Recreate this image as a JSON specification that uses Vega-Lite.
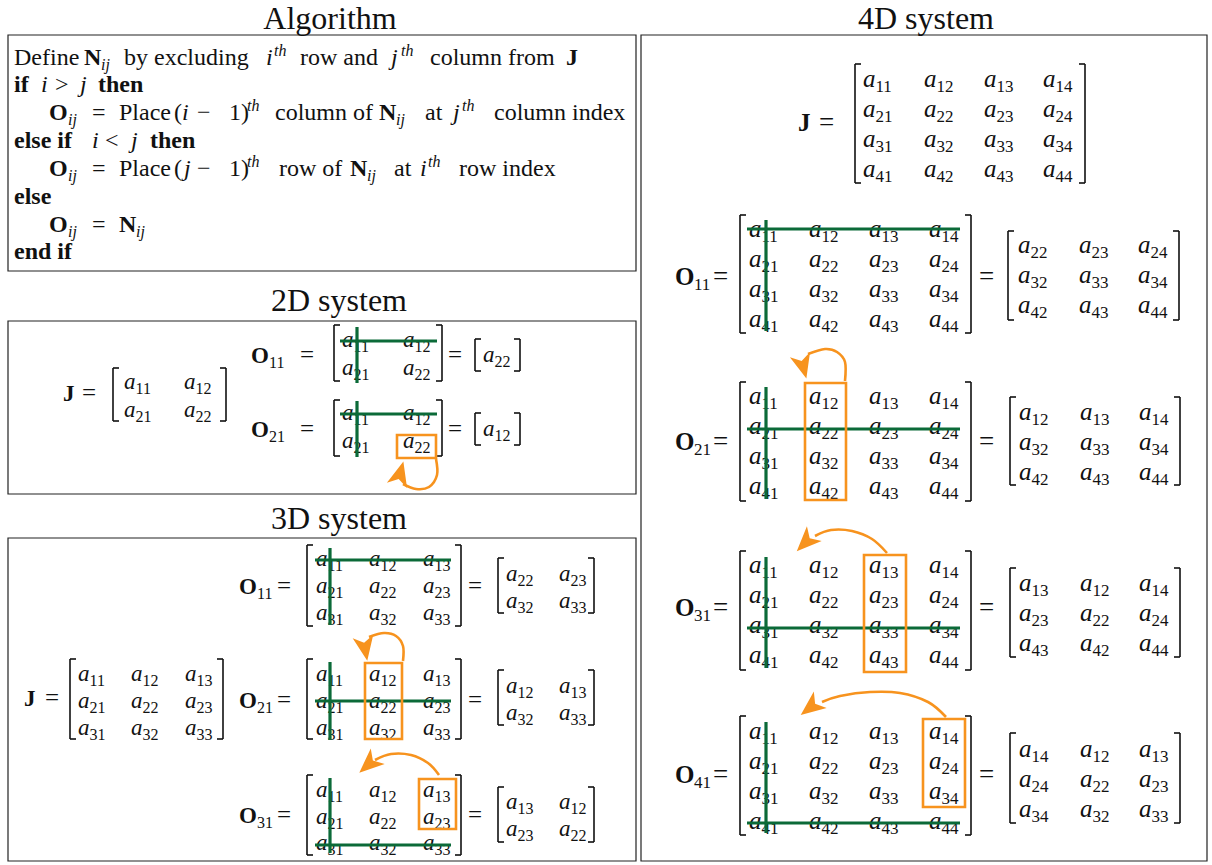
{
  "$schema": "https://vega.github.io/schema/vega-lite/v6.json",
  "width": 1212,
  "height": 865,
  "autosize": {"type": "fit", "contains": "padding"},
  "padding": 0,
  "background": "white",
  "config": {"view": {"stroke": null}, "axis": {"disable": true}, "legend": {"disable": true}},
  "datasets": {
    "boxes": [
      {"x": 8, "x2": 636, "y": 35, "y2": 271},
      {"x": 8, "x2": 636, "y": 321, "y2": 494},
      {"x": 8, "x2": 636, "y": 538, "y2": 861},
      {"x": 641, "x2": 1207, "y": 35, "y2": 861}
    ],
    "titles": [
      {"x": 330, "y": 29, "t": "Algorithm"},
      {"x": 339, "y": 311, "t": "2D system"},
      {"x": 339, "y": 529, "t": "3D system"},
      {"x": 926, "y": 29, "t": "4D system"}
    ],
    "rom": [
      {"x": 14, "y": 65, "t": "Define"},
      {"x": 124, "y": 65, "t": "by excluding"},
      {"x": 300, "y": 65, "t": "row and"},
      {"x": 430, "y": 65, "t": "column from"},
      {"x": 55, "y": 92, "t": ">"},
      {"x": 92, "y": 120, "t": "="},
      {"x": 119, "y": 120, "t": "Place"},
      {"x": 174, "y": 120, "t": "("},
      {"x": 197, "y": 120, "t": "−"},
      {"x": 229, "y": 120, "t": "1)"},
      {"x": 275, "y": 120, "t": "column of"},
      {"x": 425, "y": 120, "t": "at"},
      {"x": 494, "y": 120, "t": "column index"},
      {"x": 105, "y": 148, "t": "<"},
      {"x": 92, "y": 176, "t": "="},
      {"x": 119, "y": 176, "t": "Place"},
      {"x": 174, "y": 176, "t": "("},
      {"x": 197, "y": 176, "t": "−"},
      {"x": 229, "y": 176, "t": "1)"},
      {"x": 279, "y": 176, "t": "row of"},
      {"x": 394, "y": 176, "t": "at"},
      {"x": 459, "y": 176, "t": "row index"},
      {"x": 92, "y": 232, "t": "="}
    ],
    "bold": [
      {"x": 84, "y": 65, "t": "N"},
      {"x": 566, "y": 65, "t": "J"},
      {"x": 14, "y": 92, "t": "if"},
      {"x": 98, "y": 92, "t": "then"},
      {"x": 49, "y": 120, "t": "O"},
      {"x": 379, "y": 120, "t": "N"},
      {"x": 14, "y": 148, "t": "else if"},
      {"x": 150, "y": 148, "t": "then"},
      {"x": 49, "y": 176, "t": "O"},
      {"x": 350, "y": 176, "t": "N"},
      {"x": 14, "y": 204, "t": "else"},
      {"x": 49, "y": 232, "t": "O"},
      {"x": 119, "y": 232, "t": "N"},
      {"x": 14, "y": 259, "t": "end if"}
    ],
    "ital": [
      {"x": 266, "y": 65, "t": "i"},
      {"x": 391, "y": 65, "t": "j"},
      {"x": 41, "y": 92, "t": "i"},
      {"x": 80, "y": 92, "t": "j"},
      {"x": 182, "y": 120, "t": "i"},
      {"x": 453, "y": 120, "t": "j"},
      {"x": 92, "y": 148, "t": "i"},
      {"x": 131, "y": 148, "t": "j"},
      {"x": 184, "y": 176, "t": "j"},
      {"x": 420, "y": 176, "t": "i"}
    ],
    "isub": [
      {"x": 101, "y": 70, "t": "ij"},
      {"x": 68, "y": 125, "t": "ij"},
      {"x": 396, "y": 125, "t": "ij"},
      {"x": 68, "y": 181, "t": "ij"},
      {"x": 367, "y": 181, "t": "ij"},
      {"x": 68, "y": 237, "t": "ij"},
      {"x": 136, "y": 237, "t": "ij"}
    ],
    "isup": [
      {"x": 274, "y": 56, "t": "th"},
      {"x": 401, "y": 56, "t": "th"},
      {"x": 247, "y": 111, "t": "th"},
      {"x": 462, "y": 111, "t": "th"},
      {"x": 247, "y": 167, "t": "th"},
      {"x": 428, "y": 167, "t": "th"}
    ],
    "ent4": [
      {"x": 863, "y": 87, "s": "11"}, {"x": 924, "y": 87, "s": "12"}, {"x": 984, "y": 87, "s": "13"}, {"x": 1043, "y": 87, "s": "14"},
      {"x": 863, "y": 117, "s": "21"}, {"x": 924, "y": 117, "s": "22"}, {"x": 984, "y": 117, "s": "23"}, {"x": 1043, "y": 117, "s": "24"},
      {"x": 863, "y": 147, "s": "31"}, {"x": 924, "y": 147, "s": "32"}, {"x": 984, "y": 147, "s": "33"}, {"x": 1043, "y": 147, "s": "34"},
      {"x": 863, "y": 177, "s": "41"}, {"x": 924, "y": 177, "s": "42"}, {"x": 984, "y": 177, "s": "43"}, {"x": 1043, "y": 177, "s": "44"},

      {"x": 749, "y": 237, "s": "11"}, {"x": 809, "y": 237, "s": "12"}, {"x": 869, "y": 237, "s": "13"}, {"x": 929, "y": 237, "s": "14"},
      {"x": 749, "y": 267, "s": "21"}, {"x": 809, "y": 267, "s": "22"}, {"x": 869, "y": 267, "s": "23"}, {"x": 929, "y": 267, "s": "24"},
      {"x": 749, "y": 297, "s": "31"}, {"x": 809, "y": 297, "s": "32"}, {"x": 869, "y": 297, "s": "33"}, {"x": 929, "y": 297, "s": "34"},
      {"x": 749, "y": 327, "s": "41"}, {"x": 809, "y": 327, "s": "42"}, {"x": 869, "y": 327, "s": "43"}, {"x": 929, "y": 327, "s": "44"},

      {"x": 749, "y": 404, "s": "11"}, {"x": 809, "y": 404, "s": "12"}, {"x": 869, "y": 404, "s": "13"}, {"x": 929, "y": 404, "s": "14"},
      {"x": 749, "y": 434, "s": "21"}, {"x": 809, "y": 434, "s": "22"}, {"x": 869, "y": 434, "s": "23"}, {"x": 929, "y": 434, "s": "24"},
      {"x": 749, "y": 464, "s": "31"}, {"x": 809, "y": 464, "s": "32"}, {"x": 869, "y": 464, "s": "33"}, {"x": 929, "y": 464, "s": "34"},
      {"x": 749, "y": 494, "s": "41"}, {"x": 809, "y": 494, "s": "42"}, {"x": 869, "y": 494, "s": "43"}, {"x": 929, "y": 494, "s": "44"},

      {"x": 749, "y": 573, "s": "11"}, {"x": 809, "y": 573, "s": "12"}, {"x": 869, "y": 573, "s": "13"}, {"x": 929, "y": 573, "s": "14"},
      {"x": 749, "y": 603, "s": "21"}, {"x": 809, "y": 603, "s": "22"}, {"x": 869, "y": 603, "s": "23"}, {"x": 929, "y": 603, "s": "24"},
      {"x": 749, "y": 633, "s": "31"}, {"x": 809, "y": 633, "s": "32"}, {"x": 869, "y": 633, "s": "33"}, {"x": 929, "y": 633, "s": "34"},
      {"x": 749, "y": 663, "s": "41"}, {"x": 809, "y": 663, "s": "42"}, {"x": 869, "y": 663, "s": "43"}, {"x": 929, "y": 663, "s": "44"},

      {"x": 749, "y": 739, "s": "11"}, {"x": 809, "y": 739, "s": "12"}, {"x": 869, "y": 739, "s": "13"}, {"x": 929, "y": 739, "s": "14"},
      {"x": 749, "y": 769, "s": "21"}, {"x": 809, "y": 769, "s": "22"}, {"x": 869, "y": 769, "s": "23"}, {"x": 929, "y": 769, "s": "24"},
      {"x": 749, "y": 799, "s": "31"}, {"x": 809, "y": 799, "s": "32"}, {"x": 869, "y": 799, "s": "33"}, {"x": 929, "y": 799, "s": "34"},
      {"x": 749, "y": 829, "s": "41"}, {"x": 809, "y": 829, "s": "42"}, {"x": 869, "y": 829, "s": "43"}, {"x": 929, "y": 829, "s": "44"},

      {"x": 1018, "y": 253, "s": "22"}, {"x": 1079, "y": 253, "s": "23"}, {"x": 1138, "y": 253, "s": "24"},
      {"x": 1018, "y": 283, "s": "32"}, {"x": 1079, "y": 283, "s": "33"}, {"x": 1138, "y": 283, "s": "34"},
      {"x": 1018, "y": 313, "s": "42"}, {"x": 1079, "y": 313, "s": "43"}, {"x": 1138, "y": 313, "s": "44"},

      {"x": 1019, "y": 420, "s": "12"}, {"x": 1080, "y": 420, "s": "13"}, {"x": 1139, "y": 420, "s": "14"},
      {"x": 1019, "y": 450, "s": "32"}, {"x": 1080, "y": 450, "s": "33"}, {"x": 1139, "y": 450, "s": "34"},
      {"x": 1019, "y": 480, "s": "42"}, {"x": 1080, "y": 480, "s": "43"}, {"x": 1139, "y": 480, "s": "44"},

      {"x": 1019, "y": 591, "s": "13"}, {"x": 1080, "y": 591, "s": "12"}, {"x": 1139, "y": 591, "s": "14"},
      {"x": 1019, "y": 621, "s": "23"}, {"x": 1080, "y": 621, "s": "22"}, {"x": 1139, "y": 621, "s": "24"},
      {"x": 1019, "y": 651, "s": "43"}, {"x": 1080, "y": 651, "s": "42"}, {"x": 1139, "y": 651, "s": "44"},

      {"x": 1019, "y": 757, "s": "14"}, {"x": 1080, "y": 757, "s": "12"}, {"x": 1139, "y": 757, "s": "13"},
      {"x": 1019, "y": 787, "s": "24"}, {"x": 1080, "y": 787, "s": "22"}, {"x": 1139, "y": 787, "s": "23"},
      {"x": 1019, "y": 817, "s": "34"}, {"x": 1080, "y": 817, "s": "32"}, {"x": 1139, "y": 817, "s": "33"}
    ],
    "ent23": [
      {"x": 124, "y": 389, "s": "11"}, {"x": 184, "y": 389, "s": "12"},
      {"x": 124, "y": 417, "s": "21"}, {"x": 184, "y": 417, "s": "22"},
      {"x": 342, "y": 347, "s": "11"}, {"x": 403, "y": 347, "s": "12"},
      {"x": 342, "y": 375, "s": "21"}, {"x": 403, "y": 375, "s": "22"},
      {"x": 342, "y": 420, "s": "11"}, {"x": 403, "y": 420, "s": "12"},
      {"x": 342, "y": 448, "s": "21"}, {"x": 403, "y": 448, "s": "22"},
      {"x": 483, "y": 362, "s": "22"},
      {"x": 483, "y": 436, "s": "12"},

      {"x": 78, "y": 681, "s": "11"}, {"x": 131, "y": 681, "s": "12"}, {"x": 185, "y": 681, "s": "13"},
      {"x": 78, "y": 708, "s": "21"}, {"x": 131, "y": 708, "s": "22"}, {"x": 185, "y": 708, "s": "23"},
      {"x": 78, "y": 735, "s": "31"}, {"x": 131, "y": 735, "s": "32"}, {"x": 185, "y": 735, "s": "33"},

      {"x": 316, "y": 566, "s": "11"}, {"x": 369, "y": 566, "s": "12"}, {"x": 423, "y": 566, "s": "13"},
      {"x": 316, "y": 593, "s": "21"}, {"x": 369, "y": 593, "s": "22"}, {"x": 423, "y": 593, "s": "23"},
      {"x": 316, "y": 620, "s": "31"}, {"x": 369, "y": 620, "s": "32"}, {"x": 423, "y": 620, "s": "33"},

      {"x": 316, "y": 681, "s": "11"}, {"x": 369, "y": 681, "s": "12"}, {"x": 423, "y": 681, "s": "13"},
      {"x": 316, "y": 708, "s": "21"}, {"x": 369, "y": 708, "s": "22"}, {"x": 423, "y": 708, "s": "23"},
      {"x": 316, "y": 735, "s": "31"}, {"x": 369, "y": 735, "s": "32"}, {"x": 423, "y": 735, "s": "33"},

      {"x": 316, "y": 797, "s": "11"}, {"x": 369, "y": 797, "s": "12"}, {"x": 423, "y": 797, "s": "13"},
      {"x": 316, "y": 824, "s": "21"}, {"x": 369, "y": 824, "s": "22"}, {"x": 423, "y": 824, "s": "23"},
      {"x": 316, "y": 850, "s": "31"}, {"x": 369, "y": 850, "s": "32"}, {"x": 423, "y": 850, "s": "33"},

      {"x": 506, "y": 581, "s": "22"}, {"x": 559, "y": 581, "s": "23"},
      {"x": 506, "y": 608, "s": "32"}, {"x": 559, "y": 608, "s": "33"},
      {"x": 506, "y": 693, "s": "12"}, {"x": 559, "y": 693, "s": "13"},
      {"x": 506, "y": 720, "s": "32"}, {"x": 559, "y": 720, "s": "33"},
      {"x": 506, "y": 809, "s": "13"}, {"x": 559, "y": 809, "s": "12"},
      {"x": 506, "y": 836, "s": "23"}, {"x": 559, "y": 836, "s": "22"}
    ],
    "lab4": [
      {"x": 798, "y": 131, "t": "J", "s": ""},
      {"x": 675, "y": 285, "t": "O", "s": "11"},
      {"x": 675, "y": 450, "t": "O", "s": "21"},
      {"x": 675, "y": 616, "t": "O", "s": "31"},
      {"x": 675, "y": 783, "t": "O", "s": "41"}
    ],
    "lab23": [
      {"x": 63, "y": 401, "t": "J", "s": ""},
      {"x": 251, "y": 363, "t": "O", "s": "11"},
      {"x": 251, "y": 437, "t": "O", "s": "21"},
      {"x": 24, "y": 706, "t": "J", "s": ""},
      {"x": 239, "y": 594, "t": "O", "s": "11"},
      {"x": 239, "y": 708, "t": "O", "s": "21"},
      {"x": 239, "y": 823, "t": "O", "s": "31"}
    ],
    "eq4": [
      {"x": 819, "y": 131}, {"x": 713, "y": 285}, {"x": 979, "y": 285},
      {"x": 713, "y": 450}, {"x": 979, "y": 450}, {"x": 713, "y": 616},
      {"x": 979, "y": 616}, {"x": 713, "y": 783}, {"x": 979, "y": 783}
    ],
    "eq23": [
      {"x": 82, "y": 401}, {"x": 300, "y": 363}, {"x": 448, "y": 363},
      {"x": 300, "y": 437}, {"x": 448, "y": 437},
      {"x": 45, "y": 706}, {"x": 277, "y": 594}, {"x": 468, "y": 594},
      {"x": 277, "y": 708}, {"x": 468, "y": 708}, {"x": 277, "y": 823}, {"x": 468, "y": 823}
    ],
    "brk": [
      {"x": 113, "t": 368, "b": 421, "s": "L"}, {"x": 226, "t": 368, "b": 421, "s": "R"},
      {"x": 334, "t": 325, "b": 381, "s": "L"}, {"x": 442, "t": 325, "b": 381, "s": "R"},
      {"x": 475, "t": 339, "b": 371, "s": "L"}, {"x": 520, "t": 339, "b": 371, "s": "R"},
      {"x": 334, "t": 400, "b": 456, "s": "L"}, {"x": 442, "t": 400, "b": 456, "s": "R"},
      {"x": 475, "t": 413, "b": 445, "s": "L"}, {"x": 520, "t": 413, "b": 445, "s": "R"},
      {"x": 70, "t": 659, "b": 739, "s": "L"}, {"x": 223, "t": 659, "b": 739, "s": "R"},
      {"x": 307, "t": 545, "b": 626, "s": "L"}, {"x": 461, "t": 545, "b": 626, "s": "R"},
      {"x": 498, "t": 558, "b": 613, "s": "L"}, {"x": 594, "t": 558, "b": 613, "s": "R"},
      {"x": 307, "t": 659, "b": 739, "s": "L"}, {"x": 461, "t": 659, "b": 739, "s": "R"},
      {"x": 498, "t": 670, "b": 725, "s": "L"}, {"x": 594, "t": 670, "b": 725, "s": "R"},
      {"x": 307, "t": 775, "b": 855, "s": "L"}, {"x": 461, "t": 775, "b": 855, "s": "R"},
      {"x": 498, "t": 787, "b": 842, "s": "L"}, {"x": 594, "t": 787, "b": 842, "s": "R"},
      {"x": 855, "t": 64, "b": 183, "s": "L"}, {"x": 1085, "t": 64, "b": 183, "s": "R"},
      {"x": 740, "t": 215, "b": 333, "s": "L"}, {"x": 971, "t": 215, "b": 333, "s": "R"},
      {"x": 1008, "t": 231, "b": 320, "s": "L"}, {"x": 1179, "t": 231, "b": 320, "s": "R"},
      {"x": 740, "t": 382, "b": 501, "s": "L"}, {"x": 971, "t": 382, "b": 501, "s": "R"},
      {"x": 1010, "t": 397, "b": 485, "s": "L"}, {"x": 1180, "t": 397, "b": 485, "s": "R"},
      {"x": 740, "t": 551, "b": 670, "s": "L"}, {"x": 971, "t": 551, "b": 670, "s": "R"},
      {"x": 1010, "t": 568, "b": 657, "s": "L"}, {"x": 1180, "t": 568, "b": 657, "s": "R"},
      {"x": 740, "t": 716, "b": 835, "s": "L"}, {"x": 971, "t": 716, "b": 835, "s": "R"},
      {"x": 1010, "t": 733, "b": 823, "s": "L"}, {"x": 1180, "t": 733, "b": 823, "s": "R"}
    ],
    "grn": [
      {"x": 340, "x2": 437, "y": 341, "y2": 341}, {"x": 357, "x2": 357, "y": 327, "y2": 383},
      {"x": 340, "x2": 437, "y": 414, "y2": 414}, {"x": 357, "x2": 357, "y": 401, "y2": 457},
      {"x": 315, "x2": 451, "y": 560, "y2": 560}, {"x": 330, "x2": 330, "y": 548, "y2": 625},
      {"x": 315, "x2": 451, "y": 701, "y2": 701}, {"x": 330, "x2": 330, "y": 662, "y2": 740},
      {"x": 315, "x2": 451, "y": 845, "y2": 845}, {"x": 330, "x2": 330, "y": 778, "y2": 853},
      {"x": 747, "x2": 960, "y": 229, "y2": 229}, {"x": 766, "x2": 766, "y": 220, "y2": 331},
      {"x": 747, "x2": 960, "y": 429, "y2": 429}, {"x": 766, "x2": 766, "y": 387, "y2": 499},
      {"x": 747, "x2": 960, "y": 628, "y2": 628}, {"x": 766, "x2": 766, "y": 557, "y2": 668},
      {"x": 747, "x2": 960, "y": 823, "y2": 823}, {"x": 766, "x2": 766, "y": 722, "y2": 833}
    ],
    "org": [
      {"x": 397, "x2": 436, "y": 435, "y2": 458},
      {"x": 365, "x2": 402, "y": 663, "y2": 739},
      {"x": 419, "x2": 456, "y": 779, "y2": 829},
      {"x": 805, "x2": 846, "y": 383, "y2": 500},
      {"x": 864, "x2": 906, "y": 555, "y2": 672},
      {"x": 923, "x2": 965, "y": 719, "y2": 807}
    ],
    "arc": [
      {"id": "a2", "o": 1, "x": 436, "y": 459}, {"id": "a2", "o": 2, "x": 437, "y": 475}, {"id": "a2", "o": 3, "x": 429, "y": 487}, {"id": "a2", "o": 4, "x": 416, "y": 489}, {"id": "a2", "o": 5, "x": 403, "y": 484},
      {"id": "b1", "o": 1, "x": 403, "y": 661}, {"id": "b1", "o": 2, "x": 403, "y": 646}, {"id": "b1", "o": 3, "x": 396, "y": 636}, {"id": "b1", "o": 4, "x": 384, "y": 633}, {"id": "b1", "o": 5, "x": 369, "y": 637},
      {"id": "b2", "o": 1, "x": 439, "y": 775}, {"id": "b2", "o": 2, "x": 428, "y": 763}, {"id": "b2", "o": 3, "x": 411, "y": 755}, {"id": "b2", "o": 4, "x": 391, "y": 754}, {"id": "b2", "o": 5, "x": 375, "y": 760},
      {"id": "c1", "o": 1, "x": 845, "y": 381}, {"id": "c1", "o": 2, "x": 845, "y": 362}, {"id": "c1", "o": 3, "x": 837, "y": 352}, {"id": "c1", "o": 4, "x": 825, "y": 349}, {"id": "c1", "o": 5, "x": 808, "y": 354},
      {"id": "c2", "o": 1, "x": 887, "y": 553}, {"id": "c2", "o": 2, "x": 872, "y": 539}, {"id": "c2", "o": 3, "x": 852, "y": 531}, {"id": "c2", "o": 4, "x": 831, "y": 530}, {"id": "c2", "o": 5, "x": 815, "y": 536},
      {"id": "c3", "o": 1, "x": 946, "y": 717}, {"id": "c3", "o": 2, "x": 928, "y": 702}, {"id": "c3", "o": 3, "x": 900, "y": 693}, {"id": "c3", "o": 4, "x": 870, "y": 692}, {"id": "c3", "o": 5, "x": 840, "y": 696}, {"id": "c3", "o": 6, "x": 822, "y": 702}
    ],
    "head": [
      {"x": 400, "y": 474, "ang": 15},
      {"x": 365, "y": 648, "ang": 170},
      {"x": 369, "y": 764, "ang": 228},
      {"x": 803, "y": 366, "ang": 165},
      {"x": 806, "y": 542, "ang": 225},
      {"x": 811, "y": 707, "ang": 232}
    ]
  },
  "layer": [
    {
      "data": {"name": "boxes"},
      "mark": {"type": "rect", "fillOpacity": 0, "stroke": "#222222", "strokeWidth": 1.2},
      "encoding": {
        "x": {"field": "x", "type": "quantitative", "scale": {"domain": [0, 1212], "nice": false, "zero": false}, "axis": null},
        "x2": {"field": "x2"},
        "y": {"field": "y", "type": "quantitative", "scale": {"domain": [0, 865], "reverse": true, "nice": false, "zero": false}, "axis": null},
        "y2": {"field": "y2"}
      }
    },
    {
      "data": {"name": "brk"},
      "mark": {"type": "rule", "color": "#111111", "strokeWidth": 1.6},
      "encoding": {
        "x": {"field": "x", "type": "quantitative"},
        "y": {"field": "t", "type": "quantitative"},
        "y2": {"field": "b"}
      }
    },
    {
      "data": {"name": "brk"},
      "transform": [{"filter": "datum.s === 'L'"}],
      "mark": {"type": "rule", "color": "#111111", "strokeWidth": 1.6, "x2Offset": 6},
      "encoding": {"x": {"field": "x", "type": "quantitative"}, "x2": {"field": "x"}, "y": {"field": "t", "type": "quantitative"}}
    },
    {
      "data": {"name": "brk"},
      "transform": [{"filter": "datum.s === 'L'"}],
      "mark": {"type": "rule", "color": "#111111", "strokeWidth": 1.6, "x2Offset": 6},
      "encoding": {"x": {"field": "x", "type": "quantitative"}, "x2": {"field": "x"}, "y": {"field": "b", "type": "quantitative"}}
    },
    {
      "data": {"name": "brk"},
      "transform": [{"filter": "datum.s === 'R'"}],
      "mark": {"type": "rule", "color": "#111111", "strokeWidth": 1.6, "x2Offset": -6},
      "encoding": {"x": {"field": "x", "type": "quantitative"}, "x2": {"field": "x"}, "y": {"field": "t", "type": "quantitative"}}
    },
    {
      "data": {"name": "brk"},
      "transform": [{"filter": "datum.s === 'R'"}],
      "mark": {"type": "rule", "color": "#111111", "strokeWidth": 1.6, "x2Offset": -6},
      "encoding": {"x": {"field": "x", "type": "quantitative"}, "x2": {"field": "x"}, "y": {"field": "b", "type": "quantitative"}}
    },
    {
      "data": {"name": "titles"},
      "mark": {"type": "text", "font": "Liberation Serif", "fontSize": 32, "align": "center", "baseline": "alphabetic", "color": "#111111"},
      "encoding": {"x": {"field": "x", "type": "quantitative"}, "y": {"field": "y", "type": "quantitative"}, "text": {"field": "t"}}
    },
    {
      "data": {"name": "rom"},
      "mark": {"type": "text", "font": "Liberation Serif", "fontSize": 24, "align": "left", "baseline": "alphabetic", "color": "#111111"},
      "encoding": {"x": {"field": "x", "type": "quantitative"}, "y": {"field": "y", "type": "quantitative"}, "text": {"field": "t"}}
    },
    {
      "data": {"name": "bold"},
      "mark": {"type": "text", "font": "Liberation Serif", "fontSize": 24, "fontWeight": "bold", "align": "left", "baseline": "alphabetic", "color": "#111111"},
      "encoding": {"x": {"field": "x", "type": "quantitative"}, "y": {"field": "y", "type": "quantitative"}, "text": {"field": "t"}}
    },
    {
      "data": {"name": "ital"},
      "mark": {"type": "text", "font": "Liberation Serif", "fontSize": 24, "fontStyle": "italic", "align": "left", "baseline": "alphabetic", "color": "#111111"},
      "encoding": {"x": {"field": "x", "type": "quantitative"}, "y": {"field": "y", "type": "quantitative"}, "text": {"field": "t"}}
    },
    {
      "data": {"name": "isub"},
      "mark": {"type": "text", "font": "Liberation Serif", "fontSize": 16, "fontStyle": "italic", "align": "left", "baseline": "alphabetic", "color": "#111111"},
      "encoding": {"x": {"field": "x", "type": "quantitative"}, "y": {"field": "y", "type": "quantitative"}, "text": {"field": "t"}}
    },
    {
      "data": {"name": "isup"},
      "mark": {"type": "text", "font": "Liberation Serif", "fontSize": 16, "fontStyle": "italic", "align": "left", "baseline": "alphabetic", "color": "#111111"},
      "encoding": {"x": {"field": "x", "type": "quantitative"}, "y": {"field": "y", "type": "quantitative"}, "text": {"field": "t"}}
    },
    {
      "data": {"name": "ent4"},
      "mark": {"type": "text", "font": "Liberation Serif", "fontSize": 25, "fontStyle": "italic", "align": "left", "baseline": "alphabetic", "color": "#111111"},
      "encoding": {"x": {"field": "x", "type": "quantitative"}, "y": {"field": "y", "type": "quantitative"}, "text": {"value": "a"}}
    },
    {
      "data": {"name": "ent4"},
      "mark": {"type": "text", "font": "Liberation Serif", "fontSize": 17, "align": "left", "baseline": "alphabetic", "dx": 12.5, "dy": 5, "color": "#111111"},
      "encoding": {"x": {"field": "x", "type": "quantitative"}, "y": {"field": "y", "type": "quantitative"}, "text": {"field": "s"}}
    },
    {
      "data": {"name": "ent23"},
      "mark": {"type": "text", "font": "Liberation Serif", "fontSize": 23, "fontStyle": "italic", "align": "left", "baseline": "alphabetic", "color": "#111111"},
      "encoding": {"x": {"field": "x", "type": "quantitative"}, "y": {"field": "y", "type": "quantitative"}, "text": {"value": "a"}}
    },
    {
      "data": {"name": "ent23"},
      "mark": {"type": "text", "font": "Liberation Serif", "fontSize": 16, "align": "left", "baseline": "alphabetic", "dx": 11.5, "dy": 5, "color": "#111111"},
      "encoding": {"x": {"field": "x", "type": "quantitative"}, "y": {"field": "y", "type": "quantitative"}, "text": {"field": "s"}}
    },
    {
      "data": {"name": "lab4"},
      "mark": {"type": "text", "font": "Liberation Serif", "fontSize": 25, "fontWeight": "bold", "align": "left", "baseline": "alphabetic", "color": "#111111"},
      "encoding": {"x": {"field": "x", "type": "quantitative"}, "y": {"field": "y", "type": "quantitative"}, "text": {"field": "t"}}
    },
    {
      "data": {"name": "lab4"},
      "mark": {"type": "text", "font": "Liberation Serif", "fontSize": 17, "align": "left", "baseline": "alphabetic", "dx": 19, "dy": 5, "color": "#111111"},
      "encoding": {"x": {"field": "x", "type": "quantitative"}, "y": {"field": "y", "type": "quantitative"}, "text": {"field": "s"}}
    },
    {
      "data": {"name": "lab23"},
      "mark": {"type": "text", "font": "Liberation Serif", "fontSize": 23, "fontWeight": "bold", "align": "left", "baseline": "alphabetic", "color": "#111111"},
      "encoding": {"x": {"field": "x", "type": "quantitative"}, "y": {"field": "y", "type": "quantitative"}, "text": {"field": "t"}}
    },
    {
      "data": {"name": "lab23"},
      "mark": {"type": "text", "font": "Liberation Serif", "fontSize": 16, "align": "left", "baseline": "alphabetic", "dx": 18, "dy": 5, "color": "#111111"},
      "encoding": {"x": {"field": "x", "type": "quantitative"}, "y": {"field": "y", "type": "quantitative"}, "text": {"field": "s"}}
    },
    {
      "data": {"name": "eq4"},
      "mark": {"type": "text", "font": "Liberation Serif", "fontSize": 27, "align": "left", "baseline": "alphabetic", "color": "#111111"},
      "encoding": {"x": {"field": "x", "type": "quantitative"}, "y": {"field": "y", "type": "quantitative"}, "text": {"value": "="}}
    },
    {
      "data": {"name": "eq23"},
      "mark": {"type": "text", "font": "Liberation Serif", "fontSize": 25, "align": "left", "baseline": "alphabetic", "color": "#111111"},
      "encoding": {"x": {"field": "x", "type": "quantitative"}, "y": {"field": "y", "type": "quantitative"}, "text": {"value": "="}}
    },
    {
      "data": {"name": "grn"},
      "mark": {"type": "rule", "color": "#0b6a38", "strokeWidth": 3.2},
      "encoding": {"x": {"field": "x", "type": "quantitative"}, "x2": {"field": "x2"}, "y": {"field": "y", "type": "quantitative"}, "y2": {"field": "y2"}}
    },
    {
      "data": {"name": "org"},
      "mark": {"type": "rect", "fillOpacity": 0, "stroke": "#f7931e", "strokeWidth": 2.6},
      "encoding": {"x": {"field": "x", "type": "quantitative"}, "x2": {"field": "x2"}, "y": {"field": "y", "type": "quantitative"}, "y2": {"field": "y2"}}
    },
    {
      "data": {"name": "arc"},
      "mark": {"type": "line", "color": "#f7931e", "strokeWidth": 2.6, "interpolate": "cardinal"},
      "encoding": {"x": {"field": "x", "type": "quantitative"}, "y": {"field": "y", "type": "quantitative"}, "detail": {"field": "id"}, "order": {"field": "o", "type": "quantitative"}}
    },
    {
      "data": {"name": "head"},
      "mark": {"type": "point", "filled": true, "color": "#f7931e", "opacity": 1, "size": 680, "shape": "M0,-1L0.8,0.9L0,0.4L-0.8,0.9Z"},
      "encoding": {"x": {"field": "x", "type": "quantitative"}, "y": {"field": "y", "type": "quantitative"}, "angle": {"field": "ang", "type": "quantitative", "scale": null}}
    }
  ]
}
